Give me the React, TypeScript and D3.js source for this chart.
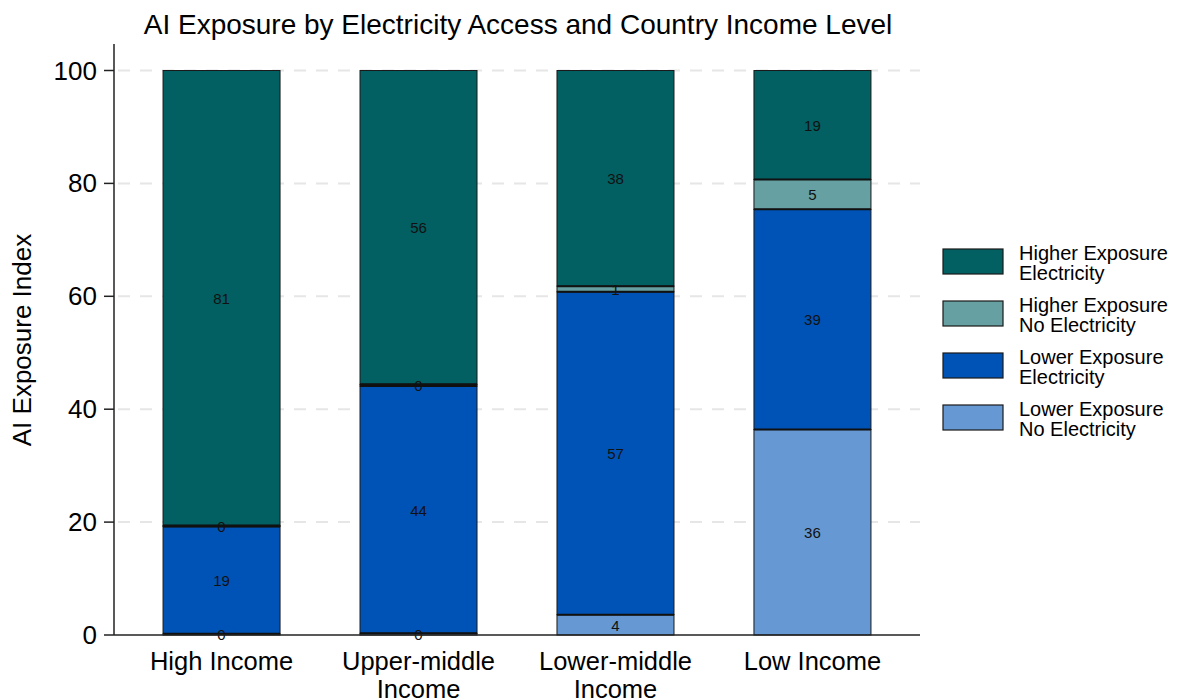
import React from "react";
import * as d3 from "d3";

const categories = ["High Income", "Upper-middle Income", "Lower-middle Income", "Low Income"];
const categoryLines = [["High Income"], ["Upper-middle", "Income"], ["Lower-middle", "Income"], ["Low Income"]];
const seriesKeys = ["lowerNoElec", "lowerElec", "higherNoElec", "higherElec"];
const seriesLabels = [
  ["Lower Exposure", "No Electricity"],
  ["Lower Exposure", "Electricity"],
  ["Higher Exposure", "No Electricity"],
  ["Higher Exposure", "Electricity"],
];
const seriesColors = ["#6699d3", "#0053b6", "#66a0a2", "#025f62"];
const lowerNoElec = [0.2, 0.3, 3.6, 36.4];
const lowerElec = [19.0, 43.8, 57.2, 39.0];
const higherNoElec = [0.2, 0.3, 1.0, 5.3];
const higherElec = [80.6, 55.6, 38.2, 19.3];
const yTicks = [0, 20, 40, 60, 80, 100];

const W = 1177;
const H = 698;
const M = { left: 114, right: 920, top: 44, bottom: 635 };

export default function App() {
  const rows = categories.map((c, i) => ({
    cat: c,
    lowerNoElec: lowerNoElec[i],
    lowerElec: lowerElec[i],
    higherNoElec: higherNoElec[i],
    higherElec: higherElec[i],
  }));
  const stack = d3.stack<any>().keys(seriesKeys)(rows);
  const x = d3.scaleBand().domain(categories).range([M.left, M.right]).paddingInner(0.406).paddingOuter(0.249);
  const y = d3.scaleLinear().domain([0, 100]).range([M.bottom, 70.5]);
  const font = "'Liberation Sans', Arial, sans-serif";

  return (
    <svg width={W} height={H} style={{ position: "absolute", left: 0, top: 0, fontFamily: font }}>
      <rect width={W} height={H} fill="#fff" />
      <text x={518} y={34} textAnchor="middle" fontSize={28} fill="#000">
        AI Exposure by Electricity Access and Country Income Level
      </text>
      {yTicks.filter((t) => t > 0).map((t) => (
        <line key={t} x1={M.left + 4} x2={M.right} y1={y(t)} y2={y(t)} stroke="#e6e6e6" strokeWidth={2} strokeDasharray="12,10" />
      ))}
      {stack.map((s, si) =>
        s.map((d, ci) => {
          const cat = categories[ci];
          const y0 = y(d[0]);
          const y1 = y(d[1]);
          return (
            <rect key={si + "-" + ci} x={x(cat)!} y={y1} width={x.bandwidth()} height={Math.max(0, y0 - y1)} fill={seriesColors[si]} stroke="#1a1a1a" strokeWidth={1} />
          );
        })
      )}
      {stack.slice(0, 3).map((s, si) =>
        s.map((d, ci) => {
          const cat = categories[ci];
          return (
            <line key={"b" + si + "-" + ci} x1={x(cat)!} x2={x(cat)! + x.bandwidth()} y1={y(d[1])} y2={y(d[1])} stroke="#111" strokeWidth={2} />
          );
        })
      )}
      {stack.map((s, si) =>
        s.map((d, ci) => {
          const cat = categories[ci];
          const y0 = y(d[0]);
          const y1 = y(d[1]);
          const v = d[1] - d[0];
          return (
            <text key={"t" + si + "-" + ci} x={x(cat)! + x.bandwidth() / 2} y={(y0 + y1) / 2 + 6} textAnchor="middle" fontSize={15} fill="#111">
              {Math.round(v)}
            </text>
          );
        })
      )}
      <line x1={M.left} x2={M.left} y1={M.top} y2={M.bottom} stroke="#222" strokeWidth={1.5} />
      <line x1={M.left} x2={M.right} y1={M.bottom} y2={M.bottom} stroke="#222" strokeWidth={1.5} />
      {yTicks.map((t) => (
        <g key={t}>
          <line x1={M.left - 10} x2={M.left} y1={y(t)} y2={y(t)} stroke="#222" strokeWidth={1.5} />
          <text x={97} y={y(t) + 9} textAnchor="end" fontSize={26} fill="#000">
            {t}
          </text>
        </g>
      ))}
      {categories.map((c, i) => (
        <text key={c} x={x(c)! + x.bandwidth() / 2} y={670} textAnchor="middle" fontSize={25.5} fill="#000">
          {categoryLines[i].map((l, li) => (
            <tspan key={li} x={x(c)! + x.bandwidth() / 2} dy={li === 0 ? 0 : 27.5}>
              {l}
            </tspan>
          ))}
        </text>
      ))}
      <text transform={`translate(31,340) rotate(-90)`} textAnchor="middle" fontSize={26} fill="#000">
        AI Exposure Index
      </text>
      {[3, 2, 1, 0].map((si, li) => (
        <g key={si} transform={`translate(943, ${249 + li * 52})`}>
          <rect x={0} y={0} width={60} height={25} fill={seriesColors[si]} stroke="#1a1a1a" strokeWidth={1.2} />
          <text x={76} y={11} fontSize={20} fill="#000">
            <tspan x={76} dy={0}>{seriesLabels[si][0]}</tspan>
            <tspan x={76} dy={20}>{seriesLabels[si][1]}</tspan>
          </text>
        </g>
      ))}
    </svg>
  );
}
